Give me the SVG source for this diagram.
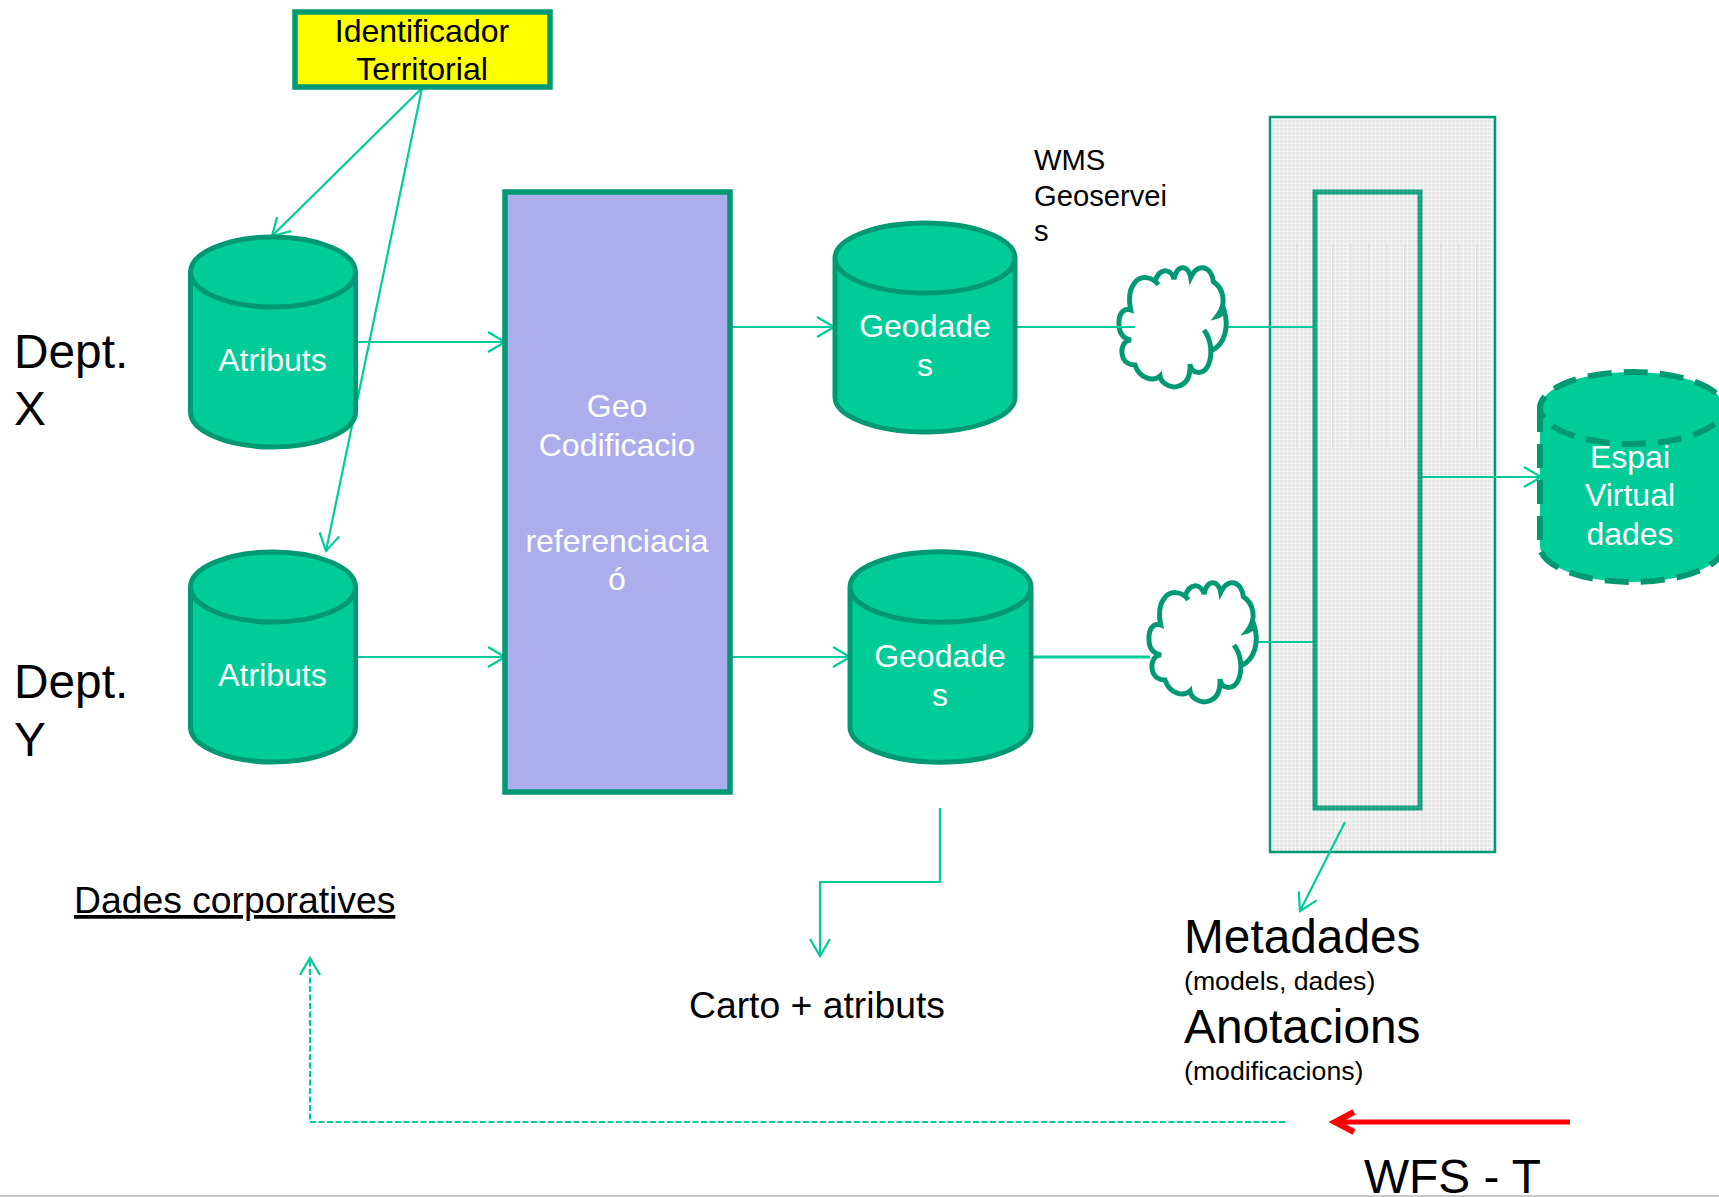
<svg xmlns="http://www.w3.org/2000/svg" xmlns:xlink="http://www.w3.org/1999/xlink" width="1719" height="1197" viewBox="0 0 1719 1197">
<style>
text{font-family:"Liberation Sans",Arial,sans-serif;fill:#000}
.w{fill:#fff;font-size:32px;text-anchor:middle}
.b{font-size:47.8px}
.s{font-size:26.7px}
.c{fill:#00cc99;stroke:#009973;stroke-width:5}
.cd{stroke-dasharray:24 12}
.l{fill:none;stroke:#00cc99;stroke-width:2.2}
.a{marker-end:url(#o)}
.cl{fill:#fff;stroke:#009973;stroke-width:15;stroke-linecap:butt}
</style>
<defs>
<marker id="o" markerUnits="userSpaceOnUse" markerWidth="24" markerHeight="26" refX="20" refY="13" orient="auto"><path d="M3,3 L20,13 L3,23" fill="none" stroke="#00cc99" stroke-width="2.2"/></marker>
<marker id="r" markerUnits="userSpaceOnUse" markerWidth="30" markerHeight="30" refX="23" refY="15" orient="auto"><path d="M4,5 L23,15 L4,25" fill="none" stroke="#ff0000" stroke-width="6"/></marker>
<pattern id="dots" width="4" height="4" patternUnits="userSpaceOnUse"><rect width="4" height="4" fill="#f5f5f5"/><rect width="3" height="3" fill="#e7e7e7"/></pattern>
<pattern id="stripes" width="18" height="4" patternUnits="userSpaceOnUse"><rect width="1.5" height="4" fill="#d8d8d8" fill-opacity="0.6"/></pattern>
<pattern id="ink" width="4" height="4" patternUnits="userSpaceOnUse"><rect width="4" height="4" fill="#2ea888"/><rect width="3" height="3" fill="#0f9c79"/></pattern>
<g id="cloudShape" transform="scale(0.3333)">
<path class="cl" d="M175,104 C155,78 120,75 103,100 C88,118 85,150 92,180 C68,172 55,195 57,225 C57,250 72,268 94,270 C68,270 60,300 70,325 C78,340 90,345 105,345 C118,385 160,397 180,378 C182,395 205,415 230,410 C260,405 272,380 270,342 C272,372 310,378 325,345 C338,315 335,270 312,240 M332,303 C375,285 388,230 372,180 C368,190 362,195 352,198 C382,160 370,115 340,95 C335,50 295,35 272,82 C265,45 232,40 222,88 C215,55 178,50 165,96"/>
</g>
</defs>
<rect id="bg" width="1719" height="1197" fill="#fff"/>
<rect x="0" y="1195" width="1719" height="2" fill="#c9c9c9"/>

<g id="panel">
<rect x="1270" y="117" width="225" height="735" fill="url(#dots)" stroke="#009973" stroke-width="2.5"/>
<rect x="1280" y="243" width="205" height="205" fill="url(#stripes)"/>
<rect x="1280" y="655" width="205" height="190" fill="url(#stripes)" opacity="0.5"/>
</g>

<g id="connectors">
<path class="l a" d="M422,88 L272,236"/>
<path class="l a" d="M422,88 L326,551"/>
<path class="l a" d="M356,342 L505,342"/>
<path class="l a" d="M356,657 L505,657"/>
<path class="l a" d="M730,327 L834,327"/>
<path class="l a" d="M730,657 L850,657"/>
<path class="l" d="M1016,327 L1135,327"/>
<path class="l" d="M1225,327 L1315,327"/>
<path class="l" d="M1032,657 L1150,657" style="stroke-width:2.8"/>
<path class="l" d="M1255,642 L1315,642"/>
<path class="l a" d="M1420,477 L1541,477"/>
<path class="l a" d="M940,808 L940,882 L820,882 L820,956"/>
<path class="l a" d="M1345,822 L1300,911"/>
<path class="l a" d="M1285,1122 L310,1122 L310,958" stroke-dasharray="6 2.5"/>
<path fill="none" stroke="#ff0000" stroke-width="5" marker-end="url(#r)" d="M1570,1122 L1335,1122"/>
</g>

<g id="inner"><rect x="1315" y="192" width="105" height="616" fill="none" stroke="url(#ink)" stroke-width="5"/></g>

<g id="identificador">
<rect x="295" y="12" width="255" height="75" fill="#ffff00" stroke="#009973" stroke-width="5.5"/>
<text x="422" y="42" font-size="32" text-anchor="middle">Identificador</text>
<text x="422" y="80" font-size="32" text-anchor="middle">Territorial</text>
</g>

<g id="atributs-x">
<path class="c" d="M190.5,272 V412 A82.5,35 0 0 0 355.5,412 V272 A82.5,35 0 0 0 190.5,272 A82.5,35 0 0 0 355.5,272"/>
<text class="w" x="272.500" y="371">Atributs</text>
</g>
<g id="atributs-y">
<path class="c" d="M190.5,587 V727 A82.5,35 0 0 0 355.5,727 V587 A82.5,35 0 0 0 190.5,587 A82.5,35 0 0 0 355.5,587"/>
<text class="w" x="272.500" y="686">Atributs</text>
</g>

<g id="geocodificacio">
<rect x="505" y="192" width="225" height="600" fill="#adadeb" stroke="#009973" stroke-width="5.5"/>
<text class="w" x="617" y="417">Geo</text>
<text class="w" x="617" y="456">Codificacio</text>
<text class="w" x="617" y="552">referenciacia</text>
<text class="w" x="617" y="590">ó</text>
</g>

<g id="geodades-1">
<path class="c" d="M835,258 V397 A90,35 0 0 0 1015,397 V258 A90,35 0 0 0 835,258 A90,35 0 0 0 1015,258"/>
<text class="w" x="925" y="337">Geodade</text>
<text class="w" x="925" y="376">s</text>
</g>
<g id="geodades-2">
<path class="c" d="M850,587 V727 A90,35 0 0 0 1031,727 V587 A90,35 0 0 0 850,587 A90,35 0 0 0 1031,587"/>
<text class="w" x="940" y="667">Geodade</text>
<text class="w" x="940" y="706">s</text>
</g>

<g id="cloud-1"><use href="#cloudShape" xlink:href="#cloudShape" x="1100" y="250"/></g>
<g id="cloud-2"><use href="#cloudShape" xlink:href="#cloudShape" x="1130" y="565"/></g>
<path class="l" d="M1100,327 L1135,327"/>

<g id="espai">
<path class="c cd" style="stroke-width:6" d="M1540,408 V546 A92,36 0 0 0 1724,546 V408 A92,36 0 0 0 1540,408 A92,36 0 0 0 1724,408"/>
<text class="w" x="1630" y="468">Espai</text>
<text class="w" x="1630" y="506">Virtual</text>
<text class="w" x="1630" y="545">dades</text>
</g>

<g id="labels">
<text class="b" x="14" y="368">Dept.</text>
<text class="b" x="14" y="425">X</text>
<text class="b" x="14" y="698">Dept.</text>
<text class="b" x="14" y="756">Y</text>
<text x="1034" y="170" font-size="29.200">WMS</text>
<text x="1034" y="206" font-size="29.200">Geoservei</text>
<text x="1034" y="241" font-size="29.200">s</text>
<text x="74" y="913" font-size="37.300" text-decoration="underline">Dades corporatives</text>
<text x="689" y="1018" font-size="37.300">Carto + atributs</text>
<text class="b" x="1184" y="953">Metadades</text>
<text class="s" x="1184" y="990">(models, dades)</text>
<text class="b" x="1184" y="1043">Anotacions</text>
<text class="s" x="1184" y="1080">(modificacions)</text>
<text class="b" x="1364" y="1193">WFS - T</text>
</g>
</svg>
